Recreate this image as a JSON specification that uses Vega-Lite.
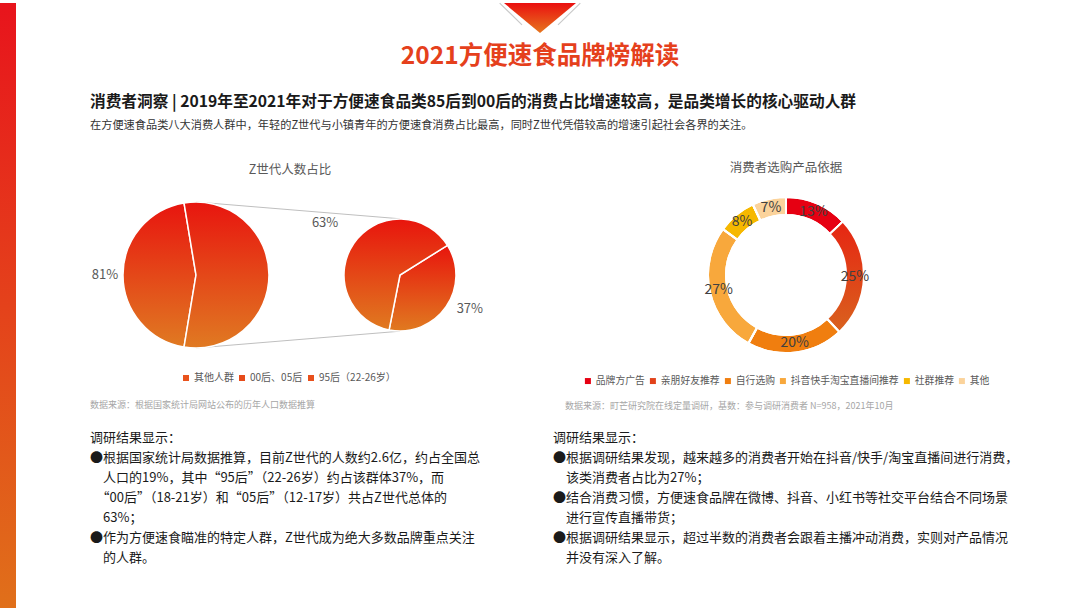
{
  "$schema": "https://vega.github.io/schema/vega-lite/v6.json",
  "background": "#ffffff",
  "padding": 0,
  "config": {
    "view": {"stroke": null},
    "font": "Noto Sans CJK SC",
    "legend": {"symbolType": "square", "layout": {"bottom": {"anchor": "middle"}}}
  },
  "datasets": {
    "zgen_main": [
      {"pie": "大", "cat": "其他人群", "val": 81, "label": "81%", "rank": 1},
      {"pie": "大", "cat": "Z世代（00后、05后、95后）", "val": 100, "label": "", "rank": 2}
    ],
    "zgen_sub": [
      {"pie": "小", "cat": "95后（22-26岁）", "val": 37, "label": "37%", "rank": 1},
      {"pie": "小", "cat": "00后、05后", "val": 63, "label": "63%", "rank": 2}
    ],
    "zgen_legend": [
      {"pie": "大", "cat": "其他人群"},
      {"pie": "大", "cat": "00后、05后"},
      {"pie": "大", "cat": "95后（22-26岁）"}
    ],
    "zgen_link": [
      {"line": "上", "pie": "大", "edge": 1},
      {"line": "上", "pie": "小", "edge": 0.77},
      {"line": "下", "pie": "大", "edge": -1},
      {"line": "下", "pie": "小", "edge": -0.77}
    ],
    "basis": [
      {"cat": "品牌方广告", "val": 13, "label": "13%", "rank": 1},
      {"cat": "亲朋好友推荐", "val": 25, "label": "25%", "rank": 2},
      {"cat": "自行选购", "val": 20, "label": "20%", "rank": 3},
      {"cat": "抖音快手淘宝直播间推荐", "val": 27, "label": "27%", "rank": 4},
      {"cat": "社群推荐", "val": 8, "label": "8%", "rank": 5},
      {"cat": "其他", "val": 7, "label": "7%", "rank": 6}
    ]
  },
  "spacing": 74,
  "hconcat": [
    {
      "width": 16,
      "height": 608,
      "data": {"values": [{"part": "侧栏"}]},
      "mark": {
        "type": "rect",
        "fill": {"gradient": "linear", "x1": 0, "y1": 0, "x2": 0, "y2": 1,
          "stops": [{"offset": 0, "color": "#e8141c"}, {"offset": 1, "color": "#e0701a"}]}
      },
      "encoding": {}
    },
    {
      "spacing": 24,
      "vconcat": [
        {
          "width": 900,
          "height": 30,
          "title": {
            "text": "2021方便速食品牌榜解读",
            "orient": "bottom",
            "anchor": "middle",
            "offset": 12,
            "fontSize": 24.5,
            "fontWeight": "bold",
            "color": "#e5401c"
          },
          "data": {"values": [{"part": "标题装饰"}]},
          "layer": [
            {
              "mark": {"type": "point", "shape": "M-1.12,-0.415L-0.5,0.19M1.12,-0.415L0.5,0.19", "size": 5184, "filled": false, "stroke": "#c9c9c9", "strokeWidth": 1.2, "opacity": 1},
              "encoding": {}
            },
            {
              "mark": {"type": "point", "shape": "M-1,-0.415L1,-0.415L0,0.415Z", "size": 5184, "filled": true, "opacity": 1, "strokeWidth": 0,
                "fill": {"gradient": "linear", "x1": 0, "y1": 0, "x2": 0, "y2": 1,
                  "stops": [{"offset": 0, "color": "#ea1010"}, {"offset": 1, "color": "#e6761e"}]}},
              "encoding": {}
            }
          ]
        },
        {
          "spacing": 21,
          "vconcat": [
            {
              "title": {
                "text": "消费者洞察 | 2019年至2021年对于方便速食品类85后到00后的消费占比增速较高，是品类增长的核心驱动人群",
                "subtitle": "在方便速食品类八大消费人群中，年轻的Z世代与小镇青年的方便速食消费占比最高，同时Z世代凭借较高的增速引起社会各界的关注。",
                "anchor": "start",
                "fontSize": 15.7,
                "fontWeight": "bold",
                "color": "#1a1a1a",
                "subtitleFontSize": 11.2,
                "subtitleColor": "#333333",
                "subtitlePadding": 10,
                "offset": 29
              },
              "spacing": 79,
              "resolve": {"scale": {"color": "independent"}},
              "hconcat": [
                {
                  "title": {
                    "text": "数据来源：根据国家统计局网站公布的历年人口数据推算",
                    "orient": "bottom",
                    "anchor": "start",
                    "offset": 18,
                    "fontSize": 9,
                    "fontWeight": "normal",
                    "color": "#a6a6a6"
                  },
                  "resolve": {"scale": {"color": "independent"}},
                  "vconcat": [
                    {
                      "width": 396,
                      "height": 164,
                      "title": {
                        "text": "Z世代人数占比",
                        "fontSize": 12.5,
                        "fontWeight": "normal",
                        "color": "#595959",
                        "offset": 17,
                        "dx": 2
                      },
                      "resolve": {"scale": {"theta": "independent"}},
                      "layer": [
                        {
                          "data": {"name": "zgen_link"},
                          "mark": {"type": "line", "color": "#bfbfbf", "strokeWidth": 1},
                          "encoding": {
                            "x": {"field": "pie", "type": "nominal", "scale": {"type": "point", "domain": ["大", "小"], "padding": 0.4706, "align": 0.552}, "axis": null},
                            "y": {"field": "edge", "type": "quantitative", "scale": {"domain": [-1.123, 1.123]}, "axis": null},
                            "detail": {"field": "line"}
                          }
                        },
                        {
                          "data": {"name": "zgen_legend"},
                          "mark": {"type": "point", "shape": "square", "filled": true, "size": 30, "opacity": 1},
                          "encoding": {
                            "x": {"field": "pie", "type": "nominal", "scale": {"type": "point", "domain": ["大", "小"], "padding": 0.4706, "align": 0.552}, "axis": null},
                            "color": {
                              "field": "cat",
                              "type": "nominal",
                              "scale": {"domain": ["其他人群", "00后、05后", "95后（22-26岁）"], "range": ["#e9531d", "#e64b1a", "#e8501c"]},
                              "legend": {"title": null, "orient": "bottom", "direction": "horizontal", "offset": 16, "symbolSize": 36, "symbolType": "square", "labelFontSize": 10, "labelColor": "#595959", "columnPadding": 3, "labelOffset": 3}
                            }
                          }
                        },
                        {
                          "data": {"name": "zgen_main"},
                          "encoding": {
                            "x": {"field": "pie", "type": "nominal", "scale": {"type": "point", "domain": ["大", "小"], "padding": 0.4706, "align": 0.552}, "axis": null},
                            "theta": {"field": "val", "type": "quantitative", "stack": true, "scale": {"range": [3.3065, 9.5897]}},
                            "order": {"field": "rank", "type": "quantitative"}
                          },
                          "layer": [
                            {
                              "mark": {"type": "arc", "radius": 73, "stroke": "#ffffff", "strokeWidth": 1.5,
                                "fill": {"gradient": "linear", "x1": 0, "y1": 0, "x2": 0, "y2": 1,
                                  "stops": [{"offset": 0, "color": "#e8150f"}, {"offset": 1, "color": "#e07a22"}]}}
                            },
                            {
                              "mark": {"type": "text", "radius": 91, "fontSize": 13, "color": "#595959"},
                              "encoding": {"text": {"field": "label"}}
                            }
                          ]
                        },
                        {
                          "data": {"name": "zgen_sub"},
                          "encoding": {
                            "x": {"field": "pie", "type": "nominal", "scale": {"type": "point", "domain": ["大", "小"], "padding": 0.4706, "align": 0.552}, "axis": null},
                            "theta": {"field": "val", "type": "quantitative", "stack": true, "scale": {"range": [1.0123, 7.2955]}},
                            "order": {"field": "rank", "type": "quantitative"}
                          },
                          "layer": [
                            {
                              "mark": {"type": "arc", "radius": 56, "stroke": "#ffffff", "strokeWidth": 1.5,
                                "fill": {"gradient": "linear", "x1": 0, "y1": 0, "x2": 0, "y2": 1,
                                  "stops": [{"offset": 0, "color": "#e8150d"}, {"offset": 1, "color": "#e07a20"}]}}
                            },
                            {
                              "mark": {"type": "text", "radius": 91, "fontSize": 13, "color": "#595959"},
                              "encoding": {"text": {"condition": {"test": "datum.cat === '00后、05后'", "field": "label", "type": "nominal"}, "value": ""}}
                            },
                            {
                              "mark": {"type": "text", "radius": 80, "dx": 4, "dy": -11, "fontSize": 13, "color": "#595959"},
                              "encoding": {"text": {"condition": {"test": "datum.cat === '95后（22-26岁）'", "field": "label", "type": "nominal"}, "value": ""}}
                            }
                          ]
                        }
                      ]
                    }
                  ]
                },
                {
                  "title": {
                    "text": "数据来源：町芒研究院在线定量调研，基数：参与调研消费者 N=958，2021年10月",
                    "orient": "bottom",
                    "anchor": "start",
                    "offset": 16,
                    "fontSize": 9,
                    "fontWeight": "normal",
                    "color": "#a6a6a6"
                  },
                  "resolve": {"scale": {"color": "independent"}},
                  "vconcat": [
                    {
                      "width": 442,
                      "height": 164,
                      "title": {
                        "text": "消费者选购产品依据",
                        "fontSize": 12.5,
                        "fontWeight": "normal",
                        "color": "#595959",
                        "offset": 19
                      },
                      "data": {"name": "basis"},
                      "encoding": {
                        "theta": {"field": "val", "type": "quantitative", "stack": true},
                        "order": {"field": "rank", "type": "quantitative"}
                      },
                      "layer": [
                        {
                          "mark": {"type": "arc", "radius": 78, "radius2": 60, "stroke": "#ffffff", "strokeWidth": 2},
                          "encoding": {
                            "color": {
                              "field": "cat",
                              "type": "nominal",
                              "scale": {
                                "domain": ["品牌方广告", "亲朋好友推荐", "自行选购", "抖音快手淘宝直播间推荐", "社群推荐", "其他"],
                                "range": ["#e60012", "#e2421a", "#f07e0f", "#f8a83c", "#f6b800", "#fbd39b"]
                              },
                              "legend": {"title": null, "orient": "bottom", "direction": "horizontal", "offset": 19, "symbolSize": 36, "symbolType": "square", "symbolStrokeWidth": 0, "labelFontSize": 9.8, "labelColor": "#595959", "columnPadding": 3, "labelOffset": 3}
                            }
                          }
                        },
                        {
                          "mark": {"type": "arc", "radius": 78, "radius2": 60, "stroke": "#ffffff", "strokeWidth": 2},
                          "encoding": {
                            "fill": {
                              "condition": {
                                "test": "datum.cat === '亲朋好友推荐'",
                                "value": {"gradient": "linear", "x1": 0, "y1": 0, "x2": 0, "y2": 1,
                                  "stops": [{"offset": 0, "color": "#e62512"}, {"offset": 1, "color": "#d9621e"}]}
                              },
                              "value": null
                            }
                          }
                        },
                        {
                          "mark": {"type": "text", "radius": 69, "fontSize": 14, "color": "#404040"},
                          "encoding": {"text": {"field": "label"}}
                        }
                      ]
                    }
                  ]
                }
              ]
            },
            {
              "spacing": 23,
              "hconcat": [
                {
                  "width": 440,
                  "height": 1,
                  "data": {"values": []},
                  "mark": "point",
                  "title": {
                    "text": [
                      "调研结果显示：",
                      "●根据国家统计局数据推算，目前Z世代的人数约2.6亿，约占全国总",
                      "\u200b\u3000人口的19%，其中“95后”（22-26岁）约占该群体37%，而",
                      "\u200b\u3000“00后”（18-21岁）和“05后”（12-17岁）共占Z世代总体的",
                      "\u200b\u300063%；",
                      "●作为方便速食瞄准的特定人群，Z世代成为绝大多数品牌重点关注",
                      "\u200b\u3000的人群。"
                    ],
                    "anchor": "start",
                    "fontSize": 13,
                    "fontWeight": "normal",
                    "color": "#1a1a1a",
                    "lineHeight": 20,
                    "offset": 0
                  }
                },
                {
                  "width": 470,
                  "height": 1,
                  "data": {"values": []},
                  "mark": "point",
                  "title": {
                    "text": [
                      "调研结果显示：",
                      "●根据调研结果发现，越来越多的消费者开始在抖音/快手/淘宝直播间进行消费，",
                      "\u200b\u3000该类消费者占比为27%；",
                      "●结合消费习惯，方便速食品牌在微博、抖音、小红书等社交平台结合不同场景",
                      "\u200b\u3000进行宣传直播带货；",
                      "●根据调研结果显示，超过半数的消费者会跟着主播冲动消费，实则对产品情况",
                      "\u200b\u3000并没有深入了解。"
                    ],
                    "anchor": "start",
                    "fontSize": 13,
                    "fontWeight": "normal",
                    "color": "#1a1a1a",
                    "lineHeight": 20,
                    "offset": 0
                  }
                }
              ]
            }
          ]
        }
      ]
    }
  ]
}
